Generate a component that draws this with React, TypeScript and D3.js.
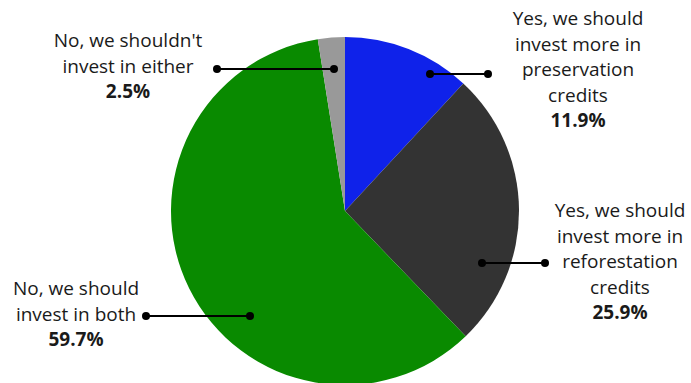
import React from "react";
import * as d3 from "d3";

const categories = [
  "Yes, we should invest more in preservation credits",
  "Yes, we should invest more in reforestation credits",
  "No, we should invest in both",
  "No, we shouldn't invest in either",
];
const values = [11.9, 25.9, 59.7, 2.5];
const colors = ["#0f22ea", "#333333", "#098a00", "#999999"];
const labelLines = [
  ["Yes, we should", "invest more in", "preservation", "credits"],
  ["Yes, we should", "invest more in", "reforestation", "credits"],
  ["No, we should", "invest in both"],
  ["No, we shouldn't", "invest in either"],
];

// layout (not data)
const W = 691, H = 383;
const cx = 345, cy = 211, R = 174;
const layout = [
  { inner: [430, 74], outer: [488, 74], tx: 578, ty: 18 },
  { inner: [482, 263], outer: [545, 263], tx: 620, ty: 210 },
  { inner: [250, 316], outer: [146, 316], tx: 76, ty: 288 },
  { inner: [334, 69], outer: [217, 69], tx: 128, ty: 40 },
];
const LH = 25.5;

export default function App() {
  const pie = d3.pie<number>().sort(null).value((d) => d)(values);
  const arc = d3.arc<d3.PieArcDatum<number>>().innerRadius(0).outerRadius(R);
  const font = "'Open Sans', 'DejaVu Sans', sans-serif";
  return (
    <svg width={W} height={H} style={{ position: "absolute", left: 0, top: 0 }}>
      <rect width={W} height={H} fill="#fff" />
      <g transform={`translate(${cx},${cy})`}>
        {pie.map((p, i) => (
          <path key={categories[i]} d={arc(p) || ""} fill={colors[i]} />
        ))}
      </g>
      {layout.map((l, i) => (
        <g key={i}>
          <line x1={l.inner[0]} y1={l.inner[1]} x2={l.outer[0]} y2={l.outer[1]} stroke="#000" strokeWidth={2} />
          <circle cx={l.inner[0]} cy={l.inner[1]} r={4} fill="#000" />
          <circle cx={l.outer[0]} cy={l.outer[1]} r={4} fill="#000" />
          <text textAnchor="middle" fontFamily={font} fontSize={19} fill="#1a1a1a">
            {labelLines[i].map((t, j) => (
              <tspan key={j} x={l.tx} y={l.ty + j * LH} dominantBaseline="central">{t}</tspan>
            ))}
            <tspan x={l.tx} y={l.ty + labelLines[i].length * LH} dominantBaseline="central" fontWeight="bold">
              {values[i].toFixed(1)}%
            </tspan>
          </text>
        </g>
      ))}
    </svg>
  );
}
